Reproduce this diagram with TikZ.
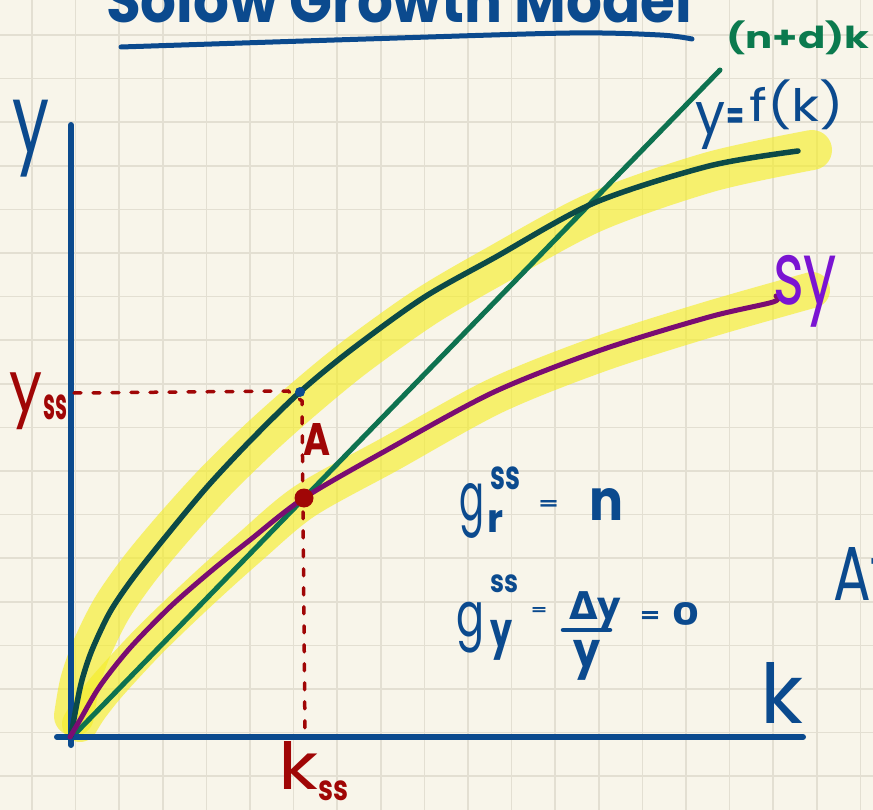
\documentclass[tikz,border=0pt]{standalone}
\usepackage{fontspec}
\setmainfont{Poppins}
\newfontfamily\symfont{DejaVu Sans}
\usepackage{graphicx}
\definecolor{paper}{HTML}{F8F5EA}
\definecolor{gridc}{HTML}{E3DFD2}
\definecolor{inkblue}{HTML}{0B4A8E}
\definecolor{inkred}{HTML}{A00606}
\definecolor{fteal}{HTML}{0C4A47}
\definecolor{sypurple}{HTML}{7A0C72}
\definecolor{lgreen}{HTML}{0E7250}
\definecolor{txtgreen}{HTML}{0B7A4E}
\definecolor{violet}{HTML}{7A14D2}
\definecolor{hlc}{HTML}{F5EE2A}
\newcommand\fitbox[3]{\resizebox*{#1}{#2}{#3}}
\begin{document}
\begin{tikzpicture}[x=1pt,y=-1pt,
  gridline/.style={draw=gridc, line width=1.6pt},
  hl/.style={draw=hlc, opacity=0.65, line cap=round, line join=round},
  axis/.style={draw=inkblue, line width=6pt, line cap=round},
  fcurve/.style={draw=fteal, line width=5.5pt, line cap=round, line join=round},
  sycurve/.style={draw=sypurple, line width=5pt, line cap=round, line join=round},
  gline/.style={draw=lgreen, line width=5pt, line cap=round},
  dashr/.style={draw=inkred, line width=3.5pt, line cap=round, dash pattern=on 7pt off 12pt},
  hw/.style={inner sep=0pt, outer sep=0pt, font=\fontsize{60}{60}\selectfont},
  hwb/.style={hw, font=\fontsize{60}{60}\selectfont\bfseries}]
\useasboundingbox (0,0) rectangle (873,810);
\clip (0,0) rectangle (873,810);
\fill[paper] (0,0) rectangle (873,810);
% grid
\foreach \i in {0,...,19} \draw[gridline] ({32+43.6*\i},0) -- ({32+43.6*\i},810);
\foreach \j in {0,...,17} \draw[gridline] (0,{35+43.6*\j}) -- (873,{35+43.6*\j});

% title
\node[hwb, text=inkblue, anchor=base west] (title) at (106,23) {\resizebox{586pt}{46pt}{Solow Growth Model}};
\draw[draw=inkblue, line width=5pt, line cap=round] plot[smooth] coordinates {(121,47) (366,39) (570,33) (660,35) (692,39)};

% key points
\coordinate (O) at (71,737);
\coordinate (ytop) at (71,125);
\coordinate (ybot) at (71,745);
\coordinate (xstart) at (57,737);
\coordinate (xend) at (803,737);
\coordinate (gend) at (720,70);
\coordinate (gstart) at (72,737);
\coordinate (A) at (304,498);
\coordinate (Y) at (300,392);
\coordinate (yax) at (74,393);
\coordinate (bend1) at (288,391);
\coordinate (bend2) at (302,401);
\coordinate (kax) at (305,735);

% highlights
\draw[hl, line width=40pt] plot[smooth] coordinates {(74,716) (80,682) (92,648) (112,608) (140,568) (175,526) (215,482) (260,438) (305,398) (355,357) (425,307) (495,266) (595,212) (710,172) (812,150)};
\draw[hl, line width=36pt] plot[smooth] coordinates {(80,724) (90,708) (110,683) (150,640) (200,592) (250,547) (305,501) (390,454) (495,396) (600,354) (710,319) (812,290)};

% green line
\draw[gline] (gstart) -- (gend);

% axes
\draw[axis] (ybot) -- (ytop);
\draw[axis] (xstart) -- (xend);

% dashed guides
\draw[dashr] (yax) -- (bend1) -- (bend2) -- (kax);

% curves
\draw[fcurve] plot[smooth] coordinates {(71,736) (76,708) (82,680) (92,650) (110,612) (133,578) (167,535) (207,487) (250,441) (300,392) (351,350) (423,298) (494,258) (594,203) (709,166) (798,151)};
\draw[sycurve] plot[smooth] coordinates {(70,737) (80,720) (100,686) (130,648) (170,607) (210,572) (250,540) (304,498) (387,450) (494,392) (601,350) (709,317) (773,302) (776,296)};

% points
\fill[inkred] (A) circle (9.5pt);
\fill[inkblue] (Y) circle (5pt);

% labels
\node[hw, text=inkblue] (ylab) at (31.5,138.5) {\fitbox{37pt}{77pt}{y}};
\node[hw, text=inkblue] (klab) at (781.5,692.5) {\fitbox{43pt}{61pt}{k}};
\node[hwb, text=txtgreen] (ndk) at (798,38) {\fitbox{143pt}{34pt}{(n+d)k}};
\node[hw, text=inkblue] (fy) at (710,126) {\fitbox{30pt}{47pt}{y}};
\node[hwb, text=inkblue] (feq) at (735,119) {\fitbox{18pt}{20pt}{=}};
\node[hw, text=inkblue] (fk) at (797,105) {\fitbox{95pt}{50pt}{f(k)}};
\node[hw, text=violet] (sylab) at (805,291) {\fitbox{64pt}{72pt}{sy}};
\node[hwb, text=inkred] (Alab) at (316.5,439) {\fitbox{27pt}{32pt}{A}};
\node[hw, text=inkred] (yss1) at (26.5,401.5) {\fitbox{33pt}{57pt}{y}};
\node[hwb, text=inkred] (yss2) at (55,407.5) {\fitbox{24pt}{25pt}{ss}};
\node[hw, text=inkred] (kss1) at (298,765) {\fitbox{40pt}{48pt}{k}};
\node[hwb, text=inkred] (kss2) at (333,791) {\fitbox{30pt}{20pt}{ss}};
% g_r^ss = n
\node[hw, text=inkblue] (g1) at (471.5,510.5) {\fitbox{25pt}{55pt}{g}};
\node[hwb, text=inkblue] (g1s) at (505,478.5) {\fitbox{30pt}{23pt}{ss}};
\node[hwb, text=inkblue] (g1r) at (495,521) {\fitbox{16pt}{22pt}{r}};
\node[hwb, text=inkblue] (g1e) at (548.5,505) {\fitbox{20pt}{9pt}{=}};
\node[hwb, text=inkblue] (g1n) at (606,504) {\fitbox{34pt}{32pt}{n}};
% g_y^ss = dy/y = 0
\node[hw, text=inkblue] (g2) at (470,627.5) {\fitbox{28pt}{51pt}{g}};
\node[hwb, text=inkblue] (g2s) at (504,584) {\fitbox{28pt}{18pt}{ss}};
\node[hwb, text=inkblue] (g2y) at (501,640) {\fitbox{22pt}{40pt}{y}};
\node[hwb, text=inkblue] (g2e) at (539,610.5) {\fitbox{16pt}{7pt}{=}};
\node[hwb, text=inkblue] (num) at (595,611) {\fitbox{52pt}{38pt}{{\symfont\bfseries Δ}y}};
\node[hwb, text=inkblue] (den) at (586.5,660) {\fitbox{27pt}{40pt}{y}};
\coordinate (barl) at (563,630);
\coordinate (barr) at (610,630);
\draw[draw=inkblue, line width=4.5pt, line cap=round] (barl) -- (barr);
\node[hwb, text=inkblue] (g2e2) at (650,617) {\fitbox{20pt}{11pt}{=}};
\node[hwb, text=inkblue] (zero) at (685.5,614) {\fitbox{27pt}{23pt}{0}};
% cut-off text at right edge
\node[hw, text=inkblue, anchor=west] (At) at (833,573.5) {\fitbox{58pt}{53pt}{At}};
\end{tikzpicture}
\end{document}
